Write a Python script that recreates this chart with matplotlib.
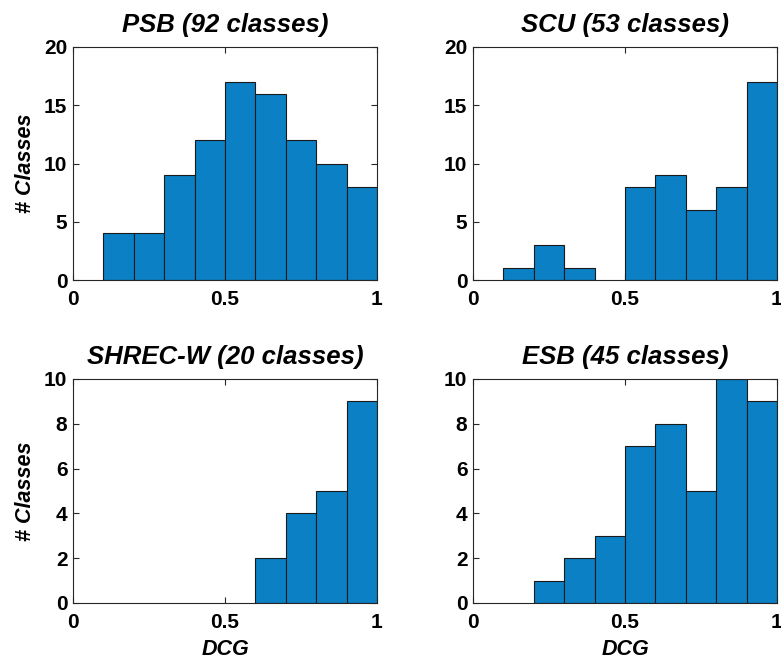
import numpy as np
import matplotlib
matplotlib.use("Agg")
import matplotlib.pyplot as plt

bin_edges = [0.0, 0.1, 0.2, 0.3, 0.4, 0.5, 0.6, 0.7, 0.8, 0.9, 1.0]
psb_counts = [0, 4, 4, 9, 12, 17, 16, 12, 10, 8]
scu_counts = [0, 1, 3, 1, 0, 8, 9, 6, 8, 17]
shrec_counts = [0, 0, 0, 0, 0, 0, 2, 4, 5, 9]
esb_counts = [0, 0, 1, 2, 3, 7, 8, 5, 10, 9]

titles = ["PSB (92 classes)", "SCU (53 classes)", "SHREC-W (20 classes)", "ESB (45 classes)"]
x_ticks = [0, 0.5, 1]
x_ticklabels = ["0", "0.5", "1"]
y_ticks_top = [0, 5, 10, 15, 20]
y_ticks_bottom = [0, 2, 4, 6, 8, 10]

plt.rcParams['font.family'] = ['Liberation Sans', 'DejaVu Sans']
plt.rcParams['font.weight'] = 'bold'

fig = plt.figure(figsize=(7.81, 6.62), dpi=100)
W, H = 781, 662

def ax_at(l, t, r, b):
    return fig.add_axes([l / W, 1 - b / H, (r - l) / W, (b - t) / H])

axes = [
    ax_at(73, 47, 377, 280),
    ax_at(473, 47, 777, 280),
    ax_at(73, 379, 377, 603),
    ax_at(473, 379, 777, 603),
]
counts = [psb_counts, scu_counts, shrec_counts, esb_counts]
ylims = [20, 20, 10, 10]
yticks = [y_ticks_top, y_ticks_top, y_ticks_bottom, y_ticks_bottom]

edges = np.array(bin_edges)
for i, ax in enumerate(axes):
    c = np.array(counts[i])
    mask = c > 0
    ax.bar(edges[:-1][mask], c[mask], width=np.diff(edges)[mask], align='edge',
           color='#0b80c5', edgecolor='#1a1a1a', linewidth=0.8, zorder=2)
    ax.set_xlim(0, 1)
    ax.set_ylim(0, ylims[i])
    ax.set_xticks(x_ticks)
    ax.set_xticklabels(x_ticklabels)
    ax.set_yticks(yticks[i])
    ax.tick_params(direction='in', length=4, width=0.8, top=True, right=True,
                   labelsize=15, colors='#262626', labelcolor='black')
    ax.tick_params(axis='x', pad=7)
    ax.tick_params(axis='y', pad=4)
    for lab in ax.get_xticklabels() + ax.get_yticklabels():
        lab.set_fontweight('bold')
    for s in ax.spines.values():
        s.set_color('#262626')
        s.set_linewidth(0.8)
    ax.set_title(titles[i], fontsize=18.5, fontweight='bold', fontstyle='italic', pad=11)
    if i in (0, 2):
        ax.set_ylabel("# Classes", fontsize=15.5, fontweight='bold', fontstyle='italic', labelpad=6)
    if i in (2, 3):
        ax.set_xlabel("DCG", fontsize=15.5, fontweight='bold', fontstyle='italic', labelpad=5)

fig.savefig("out.png", dpi=100)
